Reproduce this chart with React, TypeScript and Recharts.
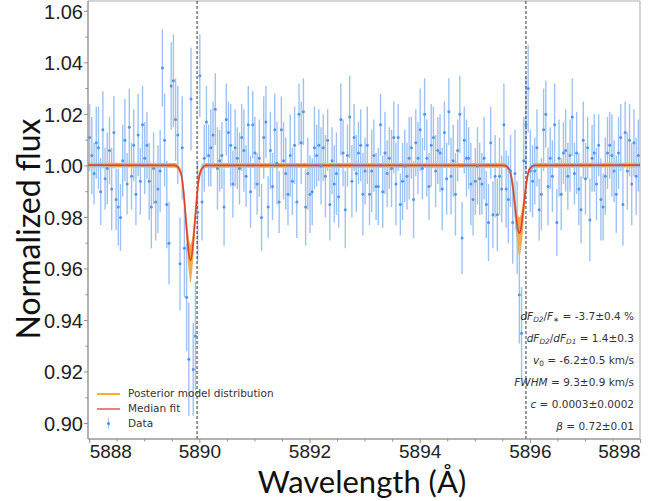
import React from 'react';
import {
  ComposedChart,
  XAxis,
  YAxis,
  Scatter,
  ErrorBar,
  Line,
  Area,
  ReferenceLine,
  ReferenceArea,
  Legend,
} from 'recharts';

// observed spectrum (wavelength in Å, normalized flux, 1-sigma error)
const WAVELENGTH = [
  5888.00, 5888.04, 5888.08, 5888.12, 5888.16, 5888.20, 5888.24, 5888.28, 5888.32, 5888.36, 5888.40, 5888.44, 5888.48, 5888.52, 5888.56, 5888.60, 5888.64, 5888.68, 5888.72, 5888.76, 5888.80, 5888.84, 5888.88, 5888.92, 5888.96,
  5889.00, 5889.04, 5889.08, 5889.12, 5889.16, 5889.20, 5889.24, 5889.28, 5889.32, 5889.36, 5889.40, 5889.44, 5889.48, 5889.52, 5889.56, 5889.60, 5889.64, 5889.68, 5889.72, 5889.76, 5889.80, 5889.84, 5889.88, 5889.92, 5889.96,
  5890.00, 5890.04, 5890.08, 5890.12, 5890.16, 5890.20, 5890.24, 5890.28, 5890.32, 5890.36, 5890.40, 5890.44, 5890.48, 5890.52, 5890.56, 5890.60, 5890.64, 5890.68, 5890.72, 5890.76, 5890.80, 5890.84, 5890.88, 5890.92, 5890.96,
  5891.00, 5891.04, 5891.08, 5891.12, 5891.16, 5891.20, 5891.24, 5891.28, 5891.32, 5891.36, 5891.40, 5891.44, 5891.48, 5891.52, 5891.56, 5891.60, 5891.64, 5891.68, 5891.72, 5891.76, 5891.80, 5891.84, 5891.88, 5891.92, 5891.96,
  5892.00, 5892.04, 5892.08, 5892.12, 5892.16, 5892.20, 5892.24, 5892.28, 5892.32, 5892.36, 5892.40, 5892.44, 5892.48, 5892.52, 5892.56, 5892.60, 5892.64, 5892.68, 5892.72, 5892.76, 5892.80, 5892.84, 5892.88, 5892.92, 5892.96,
  5893.00, 5893.04, 5893.08, 5893.12, 5893.16, 5893.20, 5893.24, 5893.28, 5893.32, 5893.36, 5893.40, 5893.44, 5893.48, 5893.52, 5893.56, 5893.60, 5893.64, 5893.68, 5893.72, 5893.76, 5893.80, 5893.84, 5893.88, 5893.92, 5893.96,
  5894.00, 5894.04, 5894.08, 5894.12, 5894.16, 5894.20, 5894.24, 5894.28, 5894.32, 5894.36, 5894.40, 5894.44, 5894.48, 5894.52, 5894.56, 5894.60, 5894.64, 5894.68, 5894.72, 5894.76, 5894.80, 5894.84, 5894.88, 5894.92, 5894.96,
  5895.00, 5895.04, 5895.08, 5895.12, 5895.16, 5895.20, 5895.24, 5895.28, 5895.32, 5895.36, 5895.40, 5895.44, 5895.48, 5895.52, 5895.56, 5895.60, 5895.64, 5895.68, 5895.72, 5895.76, 5895.80, 5895.84, 5895.88, 5895.92, 5895.96,
  5896.00, 5896.04, 5896.08, 5896.12, 5896.16, 5896.20, 5896.24, 5896.28, 5896.32, 5896.36, 5896.40, 5896.44, 5896.48, 5896.52, 5896.56, 5896.60, 5896.64, 5896.68, 5896.72, 5896.76, 5896.80, 5896.84, 5896.88, 5896.92, 5896.96,
  5897.00, 5897.04, 5897.08, 5897.12, 5897.16, 5897.20, 5897.24, 5897.28, 5897.32, 5897.36, 5897.40, 5897.44, 5897.48, 5897.52, 5897.56, 5897.60, 5897.64, 5897.68, 5897.72, 5897.76, 5897.80, 5897.84, 5897.88, 5897.92, 5897.96,
];

const FLUX = [
  1.011, 1.004, 0.997, 1.009, 1.007, 0.990, 1.014, 0.995, 0.999, 1.006, 0.991, 1.013, 0.987, 0.984, 0.980, 1.002, 1.010, 0.993, 1.015, 0.996, 1.008, 0.989, 1.012, 0.994, 1.016,
  1.003, 1.008, 0.994, 0.984, 0.999, 0.986, 0.991, 0.998, 1.038, 1.010, 0.985, 0.970, 1.031, 1.033, 1.018, 1.012, 0.962, 1.007, 0.968, 0.949, 0.925, 1.026, 0.921, 0.934, 0.982,
  1.035, 0.986, 1.003, 1.017, 1.004, 1.007, 1.012, 1.022, 0.999, 1.002, 1.004, 0.984, 1.018, 1.013, 1.008, 0.993, 1.007, 1.003, 0.999, 1.011, 1.006, 0.996, 1.016, 0.990, 1.016,
  1.005, 0.993, 1.003, 0.980, 1.011, 1.017, 0.984, 1.006, 0.992, 1.014, 1.001, 0.986, 1.014, 1.002, 0.997, 0.989, 1.004, 0.994, 1.008, 0.986, 1.020, 1.009, 1.021, 0.984, 0.997,
  0.989, 0.990, 1.007, 1.004, 1.008, 1.000, 1.007, 0.996, 1.010, 0.985, 1.002, 0.993, 0.997, 0.988, 1.018, 1.005, 0.983, 1.004, 1.019, 0.994, 1.011, 0.997, 1.005, 1.008, 0.989,
  0.998, 1.008, 0.989, 0.998, 1.004, 0.992, 0.992, 1.016, 0.990, 1.005, 0.997, 1.003, 0.999, 1.011, 0.993, 1.011, 0.985, 0.994, 1.000, 0.996, 1.003, 1.007, 0.987, 1.009, 1.003,
  1.014, 0.999, 1.020, 1.003, 0.992, 1.008, 1.011, 0.998, 1.006, 1.005, 0.991, 1.013, 0.995, 1.021, 0.996, 1.002, 0.989, 1.006, 1.020, 0.972, 1.010, 1.003, 1.003, 0.993, 0.987,
  0.994, 1.000, 0.995, 0.993, 1.003, 0.985, 0.978, 1.009, 0.981, 0.996, 0.981, 0.996, 0.991, 1.016, 0.991, 0.987, 0.998, 0.978, 0.997, 0.976, 0.950, 0.935, 1.002, 1.016, 1.030,
  0.998, 0.994, 0.998, 1.007, 0.983, 0.989, 1.014, 1.020, 0.992, 1.003, 0.996, 1.016, 0.978, 1.003, 0.989, 1.005, 1.006, 0.996, 1.004, 1.019, 0.997, 1.005, 0.991, 0.983, 1.010,
  0.995, 1.007, 0.979, 1.003, 1.005, 0.993, 1.008, 0.987, 0.984, 0.996, 1.005, 1.008, 1.004, 0.998, 0.989, 1.005, 1.011, 0.985, 1.013, 0.998, 1.010, 0.993, 1.009, 0.996, 1.004,
];

const FLUX_ERR = [
  0.013, 0.015, 0.012, 0.014, 0.016, 0.013, 0.015, 0.012, 0.014, 0.013, 0.016, 0.014, 0.012, 0.015, 0.013, 0.014, 0.016, 0.012, 0.015, 0.013, 0.014, 0.012, 0.016, 0.013, 0.015,
  0.014, 0.013, 0.015, 0.016, 0.014, 0.015, 0.017, 0.016, 0.015, 0.018, 0.017, 0.016, 0.017, 0.018, 0.016, 0.019, 0.018, 0.020, 0.019, 0.021, 0.022, 0.020, 0.018, 0.021, 0.019,
  0.016, 0.015, 0.013, 0.014, 0.012, 0.015, 0.013, 0.014, 0.016, 0.012, 0.013, 0.015, 0.014, 0.012, 0.016, 0.013, 0.015, 0.012, 0.014, 0.013, 0.016, 0.012, 0.015, 0.014, 0.013,
  0.014, 0.012, 0.015, 0.013, 0.016, 0.014, 0.012, 0.015, 0.013, 0.014, 0.016, 0.012, 0.013, 0.015, 0.014, 0.012, 0.016, 0.013, 0.015, 0.014, 0.012, 0.016, 0.013, 0.015, 0.014,
  0.015, 0.013, 0.016, 0.012, 0.014, 0.015, 0.013, 0.016, 0.012, 0.014, 0.013, 0.015, 0.016, 0.012, 0.014, 0.013, 0.015, 0.012, 0.016, 0.014, 0.013, 0.015, 0.012, 0.014, 0.016,
  0.013, 0.015, 0.012, 0.016, 0.014, 0.013, 0.015, 0.012, 0.014, 0.016, 0.013, 0.012, 0.015, 0.014, 0.016, 0.013, 0.012, 0.015, 0.014, 0.013, 0.016, 0.012, 0.015, 0.013, 0.014,
  0.016, 0.012, 0.014, 0.015, 0.013, 0.016, 0.012, 0.014, 0.013, 0.015, 0.016, 0.012, 0.014, 0.013, 0.015, 0.014, 0.016, 0.012, 0.015, 0.014, 0.013, 0.015, 0.012, 0.016, 0.014,
  0.013, 0.015, 0.014, 0.012, 0.016, 0.013, 0.015, 0.014, 0.013, 0.016, 0.014, 0.015, 0.013, 0.016, 0.015, 0.017, 0.014, 0.016, 0.017, 0.018, 0.019, 0.018, 0.017, 0.019, 0.017,
  0.016, 0.014, 0.013, 0.015, 0.012, 0.014, 0.016, 0.013, 0.015, 0.012, 0.014, 0.016, 0.013, 0.015, 0.014, 0.012, 0.016, 0.013, 0.014, 0.015, 0.012, 0.016, 0.014, 0.013, 0.015,
  0.014, 0.012, 0.016, 0.013, 0.015, 0.014, 0.012, 0.016, 0.013, 0.015, 0.014, 0.013, 0.016, 0.012, 0.015, 0.014, 0.013, 0.016, 0.012, 0.015, 0.014, 0.016, 0.013, 0.015, 0.014,
];

// fitted model: median curve and posterior envelope
const MODEL_WAVE = [
  5887.97,
  5889.55, 5889.65, 5889.70, 5889.74, 5889.77, 5889.80, 5889.83, 5889.86, 5889.89, 5889.92, 5889.96, 5890.01, 5890.11,
  5895.52, 5895.62, 5895.67, 5895.71, 5895.74, 5895.77, 5895.80, 5895.83, 5895.86, 5895.89, 5895.93, 5895.98, 5896.08,
  5897.99,
];
const MODEL_MEDIAN = [
  1.0003,
  1.0002, 0.9977, 0.9910, 0.9810, 0.9728, 0.9660, 0.9633, 0.9660, 0.9728, 0.9810, 0.9910, 0.9977, 1.0002,
  1.0002, 0.9985, 0.9937, 0.9867, 0.9807, 0.9758, 0.9739, 0.9758, 0.9807, 0.9867, 0.9937, 0.9985, 1.0002,
  1.0003,
];
const MODEL_LO = [
  0.9994,
  0.9993, 0.9962, 0.9880, 0.9765, 0.9670, 0.9590, 0.9545, 0.9590, 0.9670, 0.9765, 0.9880, 0.9962, 0.9993,
  0.9993, 0.9972, 0.9905, 0.9815, 0.9735, 0.9675, 0.9650, 0.9675, 0.9735, 0.9815, 0.9905, 0.9972, 0.9993,
  0.9994,
];
const MODEL_HI = [
  1.0012,
  1.0011, 0.9990, 0.9940, 0.9855, 0.9780, 0.9720, 0.9695, 0.9720, 0.9780, 0.9855, 0.9940, 0.9990, 1.0011,
  1.0011, 0.9996, 0.9960, 0.9905, 0.9855, 0.9815, 0.9800, 0.9815, 0.9855, 0.9905, 0.9960, 0.9996, 1.0011,
  1.0012,
];

// Na D2 / D1 rest wavelengths
const SODIUM_D = [5889.95, 5895.92];

const X_DOMAIN = [5887.97, 5897.99];
const Y_DOMAIN = [0.894, 1.064];
const X_TICKS = [
  5888, 5888.5, 5889, 5889.5, 5890, 5890.5, 5891, 5891.5, 5892, 5892.5, 5893,
  5893.5, 5894, 5894.5, 5895, 5895.5, 5896, 5896.5, 5897, 5897.5, 5898,
];
const Y_TICKS = [
  0.90, 0.91, 0.92, 0.93, 0.94, 0.95, 0.96, 0.97, 0.98, 0.99, 1.00, 1.01, 1.02, 1.03, 1.04, 1.05, 1.06,
];

const FIT_VALUES = ['-3.7±0.4 %', '1.4±0.3', '-6.2±0.5 km/s', '9.3±0.9 km/s', '0.0003±0.0002', '0.72±0.01'];

const points = WAVELENGTH.map((x, i) => ({ x, y: FLUX[i], err: FLUX_ERR[i] }));
const model = MODEL_WAVE.map((x, i) => ({
  x,
  median: MODEL_MEDIAN[i],
  band: [MODEL_LO[i], MODEL_HI[i]],
}));

const AXIS_GREY = '#8f8f8f';
const TICK_FONT = '"Liberation Sans", Arial, sans-serif';
const TITLE_FONT = 'Lato, "Open Sans", sans-serif';
const SMALL_FONT = '"DejaVu Sans", sans-serif';

const XTick = (props: any) => {
  const { x, y, payload } = props;
  const v = payload.value;
  const major = Math.abs(v % 2) < 1e-6;
  let anchor = 'middle';
  if (v === X_TICKS[0]) anchor = 'start';
  if (v === X_TICKS[X_TICKS.length - 1]) anchor = 'end';
  return (
    <g>
      <line x1={x} x2={x} y1={y} y2={y + (major ? 4 : 2.5)} stroke={AXIS_GREY} />
      {major && (
        <text x={x} y={y + 19} textAnchor={anchor} fontSize={19} fontFamily={TICK_FONT} fill="#222">
          {v}
        </text>
      )}
    </g>
  );
};

const YTick = (props: any) => {
  const { x, y, payload } = props;
  const v = payload.value;
  const major = Math.round(v * 100) % 2 === 0;
  return (
    <g>
      <line x1={x} x2={x - (major ? 4 : 2.5)} y1={y} y2={y} stroke={AXIS_GREY} />
      {major && (
        <text x={x - 5} y={y} dy="0.36em" textAnchor="end" fontSize={20} fontFamily={TICK_FONT} fill="#222">
          {v.toFixed(2)}
        </text>
      )}
    </g>
  );
};

const YTitle = (props: any) => {
  const { viewBox } = props;
  const cx = viewBox.x + 27;
  const cy = viewBox.y + viewBox.height / 2 + 9;
  return (
    <text
      x={cx}
      y={cy}
      transform={`rotate(-90, ${cx}, ${cy})`}
      textAnchor="middle"
      dominantBaseline="central"
      fontSize={32}
      fontFamily={TITLE_FONT}
      fill="#111"
    >
      Normalized flux
    </text>
  );
};

const XTitle = (props: any) => {
  const { viewBox } = props;
  return (
    <text
      x={viewBox.x + viewBox.width / 2 - 2}
      y={viewBox.y + 54}
      textAnchor="middle"
      fontSize={31}
      fontFamily={TITLE_FONT}
      fill="#111"
    >
      Wavelength (Å)
    </text>
  );
};

const LegendBox = () => {
  const row: React.CSSProperties = { display: 'flex', alignItems: 'center', height: 15 };
  const swatch: React.CSSProperties = { width: 23, marginRight: 8, position: 'relative', height: 15 };
  return (
    <div style={{ fontFamily: SMALL_FONT, fontSize: 10.5, color: '#333', lineHeight: '15px' }}>
      <div style={row}>
        <div style={swatch}>
          <div style={{ position: 'absolute', top: 7, left: 0, width: 23, height: 1.5, background: '#ffb02e' }} />
        </div>
        Posterior model distribution
      </div>
      <div style={row}>
        <div style={swatch}>
          <div style={{ position: 'absolute', top: 7, left: 0, width: 23, height: 2, background: '#f07f78' }} />
        </div>
        Median fit
      </div>
      <div style={row}>
        <div style={swatch}>
          <div style={{ position: 'absolute', top: 2, left: 11, width: 1, height: 11, background: '#a3c6f4' }} />
          <div style={{ position: 'absolute', top: 6, left: 10, width: 3, height: 3, borderRadius: 2, background: '#4a8fe8' }} />
        </div>
        Data
      </div>
    </div>
  );
};

const FitNotes = () => {
  const names = [
    <>
      <i>dF</i><sub><i>D2</i></sub>/<i>F</i><sub>∗</sub>
    </>,
    <>
      <i>dF</i><sub><i>D2</i></sub>/<i>dF</i><sub><i>D1</i></sub>
    </>,
    <>
      <i>v</i><sub>0</sub>
    </>,
    <i>FWHM</i>,
    <i>c</i>,
    <i>β</i>,
  ];
  return (
    <>
      {names.map((n, i) => (
        <div
          key={i}
          style={{
            position: 'absolute',
            right: 36,
            top: 308 + i * 22,
            fontFamily: SMALL_FONT,
            fontSize: 10.5,
            color: '#333',
            lineHeight: '16px',
            whiteSpace: 'nowrap',
          }}
        >
          {n} = {FIT_VALUES[i]}
        </div>
      ))}
    </>
  );
};

export default function App() {
  return (
    <div style={{ position: 'absolute', left: 0, top: 0, width: 670, height: 501, background: '#fff' }}>
      <style>{'sub { font-size: 0.7em; vertical-align: -0.25em; line-height: 0; }'}</style>
      <ComposedChart width={670} height={501} margin={{ top: 1, right: 30, bottom: 0, left: 0 }}>
        <XAxis
          dataKey="x"
          type="number"
          domain={X_DOMAIN}
          ticks={X_TICKS}
          allowDataOverflow
          height={62}
          tickSize={0}
          tickMargin={0}
          tickLine={false}
          axisLine={{ stroke: AXIS_GREY }}
          tick={<XTick />}
          interval={0}
          label={<XTitle />}
        />
        <YAxis
          type="number"
          domain={Y_DOMAIN}
          ticks={Y_TICKS}
          allowDataOverflow
          width={88}
          tickSize={0}
          tickMargin={0}
          tickLine={false}
          axisLine={{ stroke: AXIS_GREY }}
          tick={<YTick />}
          interval={0}
          label={<YTitle />}
        />
        <ReferenceArea
          x1={X_DOMAIN[0]}
          x2={X_DOMAIN[1]}
          y1={Y_DOMAIN[0]}
          y2={Y_DOMAIN[1]}
          fill="none"
          stroke="#ababab"
          strokeWidth={1}
        />
        <Scatter
          data={points}
          dataKey="y"
          isAnimationActive={false}
          shape={(p: any) => <circle cx={p.cx} cy={p.cy} r={1.5} fill="#5096ec" />}
        >
          <ErrorBar dataKey="err" direction="y" width={0} stroke="#9dc3f4" strokeWidth={1.4} />
        </Scatter>
        {SODIUM_D.map((w) => (
          <ReferenceLine key={w} x={w} stroke="#333" strokeWidth={1} strokeDasharray="3 2" />
        ))}
        <Area
          data={model}
          dataKey="band"
          type="monotone"
          stroke="none"
          fill="#f39a2a"
          fillOpacity={0.85}
          isAnimationActive={false}
        />
        <Line
          data={model}
          dataKey="median"
          type="monotone"
          stroke="#e2432b"
          strokeWidth={1.6}
          dot={false}
          isAnimationActive={false}
        />
        <Legend
          layout="vertical"
          verticalAlign="middle"
          align="center"
          content={<LegendBox />}
          wrapperStyle={{ left: 97, top: 386, width: 200 }}
        />
      </ComposedChart>
      <FitNotes />
    </div>
  );
}
